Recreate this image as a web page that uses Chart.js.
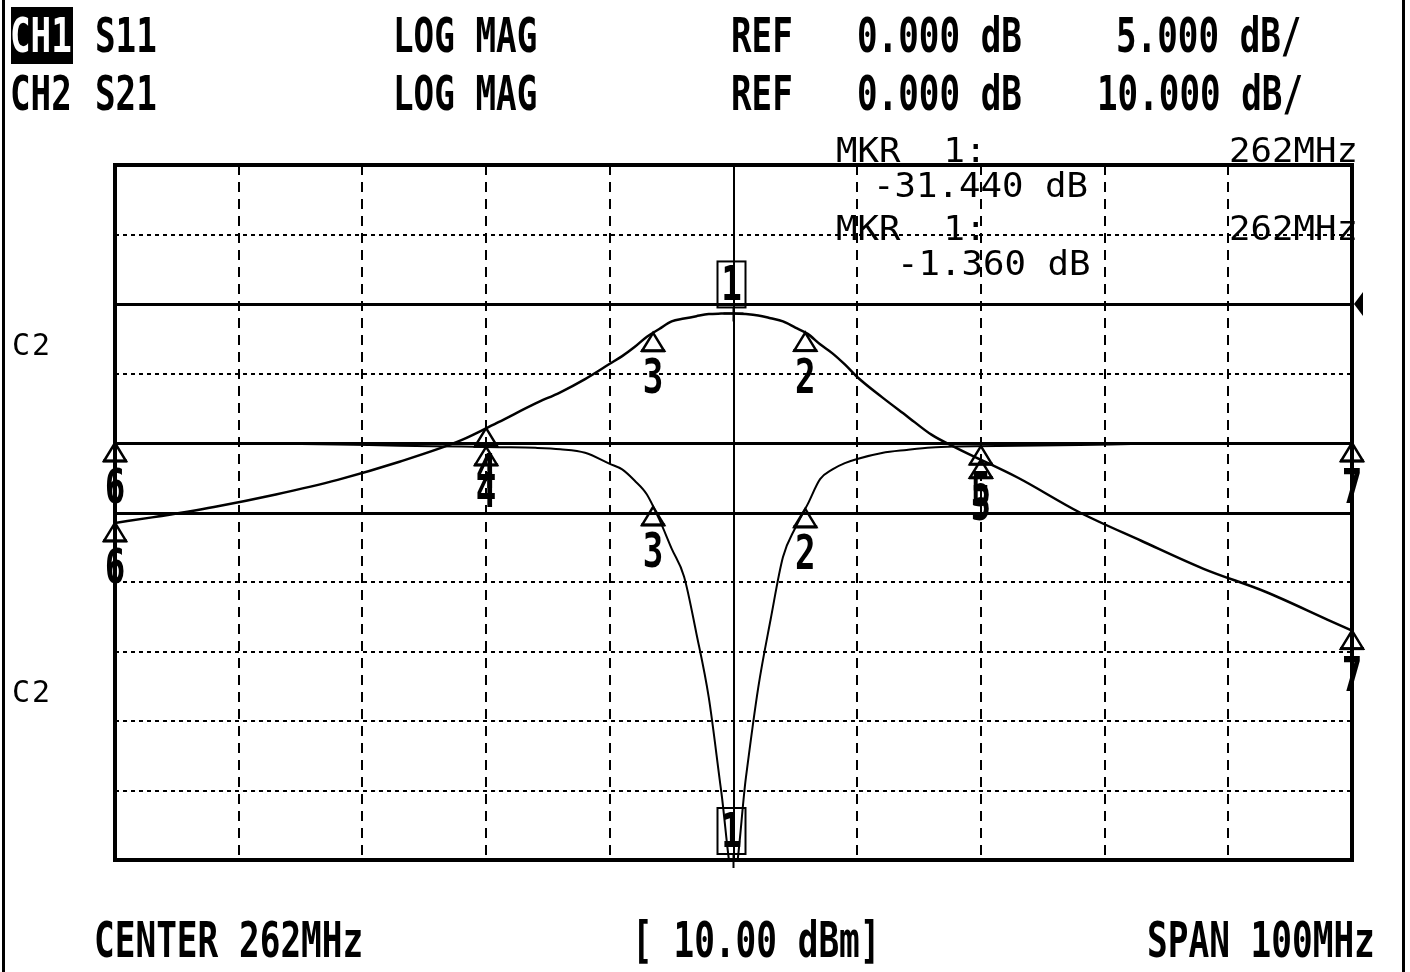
<!DOCTYPE html>
<html>
<head>
<meta charset="utf-8">
<script src="https://cdn.jsdelivr.net/npm/chart.js@4.4.1/dist/chart.umd.min.js"></script>
<style>
  body { margin:0; background:#fff; }
  #wrap { position:relative; width:1410px; height:972px; overflow:hidden; }
  canvas { position:absolute; left:0; top:0; }
  .hd { position:absolute; font-family:'DejaVu Sans Mono'; font-weight:bold; font-size:48px; line-height:48px;
        transform:scaleX(0.713); transform-origin:0 0; white-space:pre; color:#000; }
  .ft { position:absolute; font-family:'DejaVu Sans Mono'; font-weight:bold; font-size:50px; line-height:50px;
        transform:scaleX(0.688); transform-origin:0 0; white-space:pre; color:#000; }
  .mk { position:absolute; font-family:'DejaVu Sans Mono'; font-size:34px; line-height:34px;
        transform:scaleX(1.05); transform-origin:0 0; white-space:pre; color:#000; }
  .c2 { position:absolute; font-family:'DejaVu Sans Mono'; font-size:30px; line-height:30px; letter-spacing:2px; white-space:pre; }
  #box1 { position:absolute; left:11px; top:7px; width:62px; height:57px; background:#000; }
</style>
</head>
<body>
<div id="wrap">
  <canvas id="grafico" width="1410" height="972"></canvas>

  <div id="box1"></div>
  <div class="hd" style="left:10px;top:11px;color:#fff">CH1</div>
  <div class="hd" style="left:95px;top:11px">S11</div>
  <div class="hd" style="left:393px;top:11px">LOG MAG</div>
  <div class="hd" style="left:731px;top:11px">REF</div>
  <div class="hd" style="left:857px;top:11px">0.000 dB</div>
  <div class="hd" style="left:1116px;top:11px">5.000 dB/</div>

  <div class="hd" style="left:10px;top:69px">CH2</div>
  <div class="hd" style="left:95px;top:69px">S21</div>
  <div class="hd" style="left:393px;top:69px">LOG MAG</div>
  <div class="hd" style="left:731px;top:69px">REF</div>
  <div class="hd" style="left:857px;top:69px">0.000 dB</div>
  <div class="hd" style="left:1097px;top:69px">10.000 dB/</div>

  <div class="mk" style="left:836px;top:133px">MKR  1:</div>
  <div class="mk" style="left:1229px;top:133px">262MHz</div>
  <div class="mk" style="left:873px;top:168px">-31.440 dB</div>
  <div class="mk" style="left:836px;top:211px">MKR  1:</div>
  <div class="mk" style="left:1229px;top:211px">262MHz</div>
  <div class="mk" style="left:897px;top:246px">-1.360 dB</div>

  <div class="c2" style="left:12px;top:330px">C2</div>
  <div class="c2" style="left:12px;top:677px">C2</div>

  <div class="ft" style="left:94px;top:915px">CENTER 262MHz</div>
  <div class="ft" style="left:632px;top:915px">[ 10.00 dBm]</div>
  <div class="ft" style="left:1147px;top:915px">SPAN 100MHz</div>
</div>

<script>
const freqs = [212,215,220,225,230,235,240,243,246,248,250,252,253,254,255,256,257,258,259,260,261,
               262,263,264,265,266,267,268,269,270,271,272,274,276,278,280,285,290,295,300,305,310,312];
// CH1 S11 (dB) - reflexao
const s11 = [0,0,-0.02,-0.05,-0.1,-0.2,-0.25,-0.3,-0.35,-0.45,-0.7,-1.5,-1.9,-2.7,-3.7,-5.5,-7.6,-9.6,-13.7,-18.3,-25.0,
             -31.44,-24.1,-17.6,-12.7,-8.2,-6.1,-4.4,-2.6,-1.9,-1.45,-1.15,-0.72,-0.5,-0.32,-0.25,-0.2,-0.15,-0.05,0,0,0,0];
// CH2 S21 (dB) - transmissao
const s21 = [-31.5,-30.7,-29.2,-27.4,-25.3,-22.7,-19.6,-17.0,-14.3,-12.7,-10.8,-8.6,-7.5,-6.2,-4.7,-3.6,-2.5,-2.1,-1.75,-1.45,-1.38,
             -1.36,-1.45,-1.65,-2.05,-2.5,-3.4,-4.3,-5.8,-7.1,-8.7,-10.5,-13.4,-16.1,-18.8,-20.7,-25.0,-30.0,-34.1,-38.1,-41.4,-45.4,-47.0];

// marcadores
const mkrNums  = ['1','2','3','4','5','6','7'];
const mkrFreqs = [262, 267.8, 255.5, 242, 282, 212, 312];

// eixos: 10 divisoes em cada direcao
const xTicks   = [212,222,232,242,252,262,272,282,292,302,312];
const s11Ticks = [-30,-25,-20,-15,-10,-5,0,5,10,15,20];
const s21Min = -80, s21Max = 20;

const ctx = document.getElementById('grafico');

const interp = (arr, f) => {
  for (let i = 0; i < freqs.length - 1; i++) {
    if (f >= freqs[i] && f <= freqs[i+1]) {
      const t = (f - freqs[i]) / (freqs[i+1] - freqs[i]);
      return arr[i] + t * (arr[i+1] - arr[i]);
    }
  }
  return arr[arr.length - 1];
};

const tela = {
  id: 'tela',
  beforeDraw(chart) {
    const c = chart.ctx;
    c.save();
    c.fillStyle = '#000';
    c.fillRect(2, 0, 3, 972);
    c.fillRect(1402, 0, 3, 972);
    c.restore();
  },
  beforeDatasetsDraw(chart) {
    const c = chart.ctx, a = chart.chartArea;
    const x = chart.scales.x, y = chart.scales.y;
    c.save();
    c.strokeStyle = '#000';
    c.setLineDash([]);
    c.lineWidth = 3;
    [10, 0, -5].forEach(v => {
      const py = Math.round(y.getPixelForValue(v)) + 0.5;
      c.beginPath(); c.moveTo(a.left, py); c.lineTo(a.right, py); c.stroke();
    });
    c.lineWidth = 2;
    const cx = Math.round(x.getPixelForValue(262));
    c.beginPath(); c.moveTo(cx, a.top); c.lineTo(cx, a.bottom); c.stroke();
    c.lineWidth = 4;
    c.strokeRect(a.left, a.top, a.right - a.left, a.bottom - a.top);
    // indicador de referencia a direita
    const ry = y.getPixelForValue(10);
    c.beginPath();
    c.moveTo(a.right + 2, ry); c.lineTo(a.right + 11, ry - 12); c.lineTo(a.right + 11, ry + 12); c.closePath();
    c.fill();
    c.restore();
  },
  afterDatasetsDraw(chart) {
    const c = chart.ctx, a = chart.chartArea;
    const x = chart.scales.x;
    c.save();
    c.strokeStyle = '#000'; c.fillStyle = '#000';
    c.setLineDash([]);
    c.textAlign = 'center'; c.textBaseline = 'alphabetic';
    const tr = [[s11, chart.scales.y], [s21, chart.scales.y2]];
    tr.forEach(([arr, ys]) => {
      mkrFreqs.forEach((f, i) => {
        const px = x.getPixelForValue(f);
        let py = ys.getPixelForValue(interp(arr, f));
        py = Math.min(Math.max(py, a.top), a.bottom);
        if (mkrNums[i] === '1') {
          // marcador ativo: numero dentro de caixa acima do ponto
          const bw = 28, bh = 46, bb = py - 6;
          c.lineWidth = 2;
          c.strokeRect(px - bw / 2 - 2, bb - bh, bw, bh);
          c.beginPath(); c.moveTo(px, bb); c.lineTo(px, py + 8); c.stroke();
          c.beginPath(); c.moveTo(px - 10, py); c.lineTo(px + 10, py); c.stroke();
          c.save();
          c.translate(px - 2, bb - 7);
          c.scale(0.713, 1);
          c.font = 'bold 48px "DejaVu Sans Mono"';
          c.fillText('1', 0, 0);
          c.restore();
        } else {
          c.lineWidth = 2.5;
          c.beginPath();
          c.moveTo(px, py); c.lineTo(px - 11, py + 18); c.lineTo(px + 11, py + 18); c.closePath();
          c.stroke();
          c.lineWidth = 3;
          c.beginPath(); c.moveTo(px - 12, py + 18); c.lineTo(px + 12, py + 18); c.stroke();
          c.save();
          c.translate(px, py + 60);
          c.scale(0.713, 1);
          c.font = 'bold 48px "DejaVu Sans Mono"';
          c.fillText(mkrNums[i], 0, 0);
          c.restore();
        }
      });
    });
    c.restore();
  }
};

const semTamanho = s => { if (s.isHorizontal()) s.height = 0; else s.width = 0; };

new Chart(ctx, {
  type: 'line',
  data: {
    datasets: [
      { label: 'S11', data: freqs.map((f, i) => ({ x: f, y: s11[i] })), yAxisID: 'y',
        borderColor: '#000', borderWidth: 2, pointRadius: 0, cubicInterpolationMode: 'monotone' },
      { label: 'S21', data: freqs.map((f, i) => ({ x: f, y: s21[i] })), yAxisID: 'y2',
        borderColor: '#000', borderWidth: 2.5, pointRadius: 0, cubicInterpolationMode: 'monotone' }
    ]
  },
  options: {
    responsive: false,
    animation: false,
    layout: { padding: { left: 115, top: 165, right: 58, bottom: 112 } },
    plugins: { legend: { display: false }, tooltip: { enabled: false } },
    scales: {
      x: {
        type: 'linear', min: 212, max: 312,
        afterBuildTicks: s => { s.ticks = xTicks.map(v => ({ value: v })); },
        afterFit: semTamanho,
        ticks: { display: false },
        grid: { color: '#000', lineWidth: 2, drawTicks: false },
        border: { display: false, dash: [10, 7] }
      },
      y: {
        min: -30, max: 20,
        afterBuildTicks: s => { s.ticks = s11Ticks.map(v => ({ value: v })); },
        afterFit: semTamanho,
        ticks: { display: false },
        grid: { color: '#000', lineWidth: 2, drawTicks: false },
        border: { display: false, dash: [4, 4] }
      },
      y2: {
        position: 'right', min: s21Min, max: s21Max,
        afterFit: semTamanho,
        ticks: { display: false },
        grid: { display: false, drawTicks: false },
        border: { display: false }
      }
    }
  },
  plugins: [tela]
});
</script>
</body>
</html>
